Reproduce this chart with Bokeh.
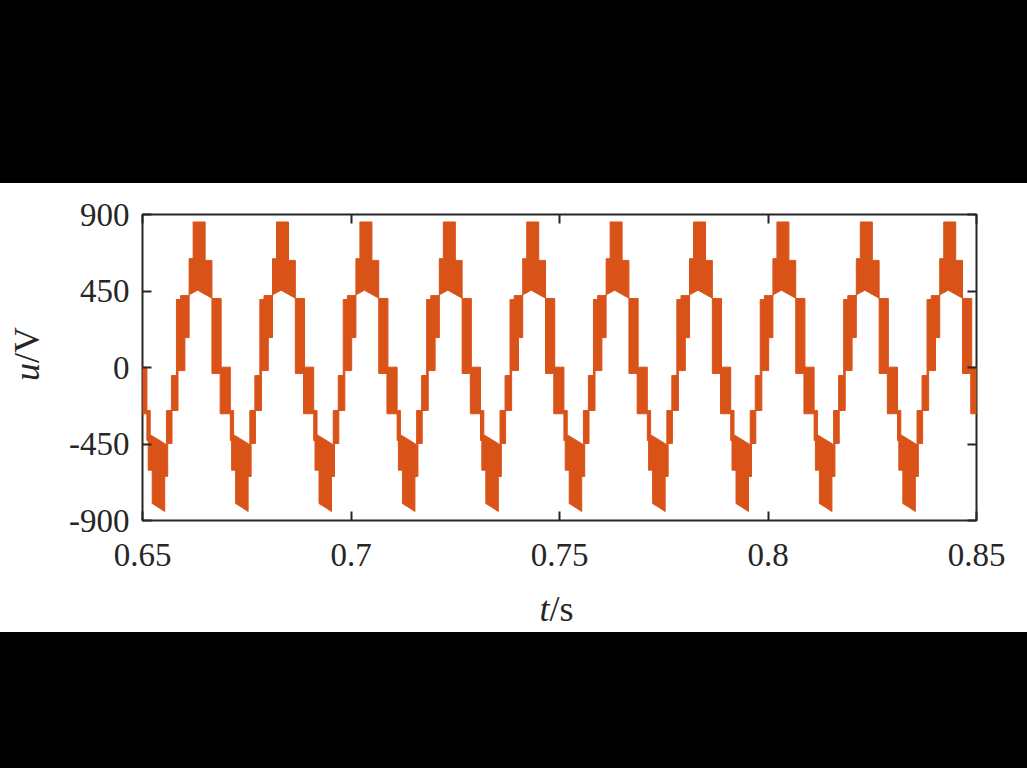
import math
from bokeh.plotting import figure
from bokeh.models import Range1d, LinearAxis, FixedTicker, Div, ColumnDataSource, Label
from bokeh.layouts import column, row
from bokeh.embed import file_html
from bokeh.resources import INLINE

# ---- data ----
# times of the positive peaks (s); the first one lies just left of the window
peak_times = [0.6437, 0.6637, 0.6837, 0.7037, 0.7237, 0.7437,
              0.7637, 0.7837, 0.8037, 0.8237, 0.8437]

# one period of the switched waveform, as a band between a lower and an upper envelope,
# time in ms relative to the positive peak, voltage in V
seg_start_ms = [-10.0, -8.37, -7.96, -7.65, -6.76, -6.62, -5.56, -5.18, -4.56, -3.53, -2.52,
                -1.56, -0.48, 1.32, 2.95, 4.92, 5.16, 7.36, 7.67, 8.15, 8.63]
seg_end_ms = [-8.37, -7.96, -7.65, -6.76, -6.62, -5.56, -5.18, -4.56, -3.53, -2.52, -1.56,
              -0.48, 1.32, 2.95, 4.92, 5.16, 7.36, 7.67, 8.15, 8.63, 10.0]
upper_start = [-423, -448, -253, -253, -47, -47, 400, 400, 423, 423, 640,
               856, 856, 630, 406, 406, 2, -253, -253, -395, -403]
upper_end = [-448, -454, -253, -253, -47, -47, 400, 400, 423, 423, 640,
             856, 856, 630, 406, 406, 2, -253, -253, -403, -423]
lower_start = [-821, -641, -641, -447, -447, -253, -253, -18, -18, 176, 428,
               440, 455, 430, -35, -272, -272, -430, -604, -604, -800]
lower_end = [-847, -641, -641, -447, -447, -253, -253, -18, -18, 176, 440,
             455, 430, 408, -35, -272, -272, -430, -604, -604, -821]

x_ticks = [0.65, 0.7, 0.75, 0.8, 0.85]
x_labels = ["0.65", "0.7", "0.75", "0.8", "0.85"]
y_ticks = [-900, -450, 0, 450, 900]
y_labels = ["-900", "-450", "0", "450", "900"]
x_title = ("t", "/s")   # italic symbol, upright unit
y_title = ("u", "/V")

# ---- build the band ----
t, up, lo = [], [], []
for pk in peak_times:
    for i in range(len(seg_start_ms)):
        t += [pk + seg_start_ms[i] / 1000.0, pk + seg_end_ms[i] / 1000.0]
        up += [upper_start[i], upper_end[i]]
        lo += [lower_start[i], lower_end[i]]
src = ColumnDataSource(dict(t=t, upper=up, lower=lo))

FONT = "Liberation Serif"
INK = "#262626"
ORANGE = "#D95319"

p = figure(width=977, height=402, output_backend="svg", toolbar_location=None,
           x_range=Range1d(0.65, 0.85), y_range=Range1d(-900, 900),
           min_border_left=92, min_border_right=51, min_border_top=31, min_border_bottom=65,
           background_fill_color="white", border_fill_color="white", margin=0)
p.grid.visible = False
p.outline_line_color = INK
p.outline_line_width = 2

p.varea(x="t", y1="lower", y2="upper", source=src, fill_color=ORANGE, fill_alpha=1.0)
p.line(x="t", y="upper", source=src, line_color=ORANGE, line_width=1)
p.line(x="t", y="lower", source=src, line_color=ORANGE, line_width=1)

for ax in (p.xaxis[0], p.yaxis[0]):
    ax.axis_line_color = None
    ax.major_tick_in = 9
    ax.major_tick_out = 0
    ax.major_tick_line_color = INK
    ax.major_tick_line_width = 2
    ax.minor_tick_line_color = None
    ax.major_label_text_font = FONT
    ax.major_label_text_font_size = "33px"
    ax.major_label_text_color = INK

p.xaxis[0].ticker = FixedTicker(ticks=x_ticks)
p.xaxis[0].major_label_overrides = dict(zip(x_ticks, x_labels))
p.xaxis[0].major_label_standoff = 23
p.yaxis[0].ticker = FixedTicker(ticks=y_ticks)
p.yaxis[0].major_label_overrides = dict(zip(y_ticks, y_labels))
p.yaxis[0].major_label_standoff = 13

for side, ticks in (("right", y_ticks), ("above", x_ticks)):
    a = LinearAxis(ticker=FixedTicker(ticks=ticks), axis_line_color=None,
                   major_tick_in=9, major_tick_out=0, major_tick_line_color=INK,
                   major_tick_line_width=2, minor_tick_line_color=None,
                   major_label_text_color=None, major_label_text_font_size="8px",
                   major_label_standoff=0)
    p.add_layout(a, side)


def blank(w, h):
    f = figure(width=w, height=h, output_backend="svg", toolbar_location=None,
               x_range=Range1d(0, w), y_range=Range1d(0, h), x_axis_type=None, y_axis_type=None,
               min_border=0, min_border_left=0, min_border_right=0, min_border_top=0,
               min_border_bottom=0, background_fill_color="white", border_fill_color="white",
               outline_line_color=None, margin=0)
    f.grid.visible = False
    return f


title_style = dict(text_font=FONT, text_font_size="36px", text_color=INK,
                   text_baseline="middle")

# y-axis title panel (left strip)
lf = blank(50, 402)
lf.add_layout(Label(x=26, y=207, text=y_title[0], text_align="right", text_font_style="italic",
                    angle=math.pi / 2, **title_style))
lf.add_layout(Label(x=26, y=207, text=y_title[1], text_align="left",
                    angle=math.pi / 2, **title_style))

# x-axis title panel (bottom strip)
bf = blank(1027, 47)
bf.add_layout(Label(x=549, y=24, text=x_title[0], text_align="right", text_font_style="italic",
                    **title_style))
bf.add_layout(Label(x=549, y=24, text=x_title[1], text_align="left", **title_style))

top = Div(text="", width=1027, height=183, margin=0, styles={"background-color": "black"})
bottom = Div(text="", width=1027, height=136, margin=0, styles={"background-color": "black"})
layout = column(top, row(lf, p, margin=0, spacing=0), bf, bottom, margin=0, spacing=0)

open("out.html", "w").write(file_html(layout, INLINE))
